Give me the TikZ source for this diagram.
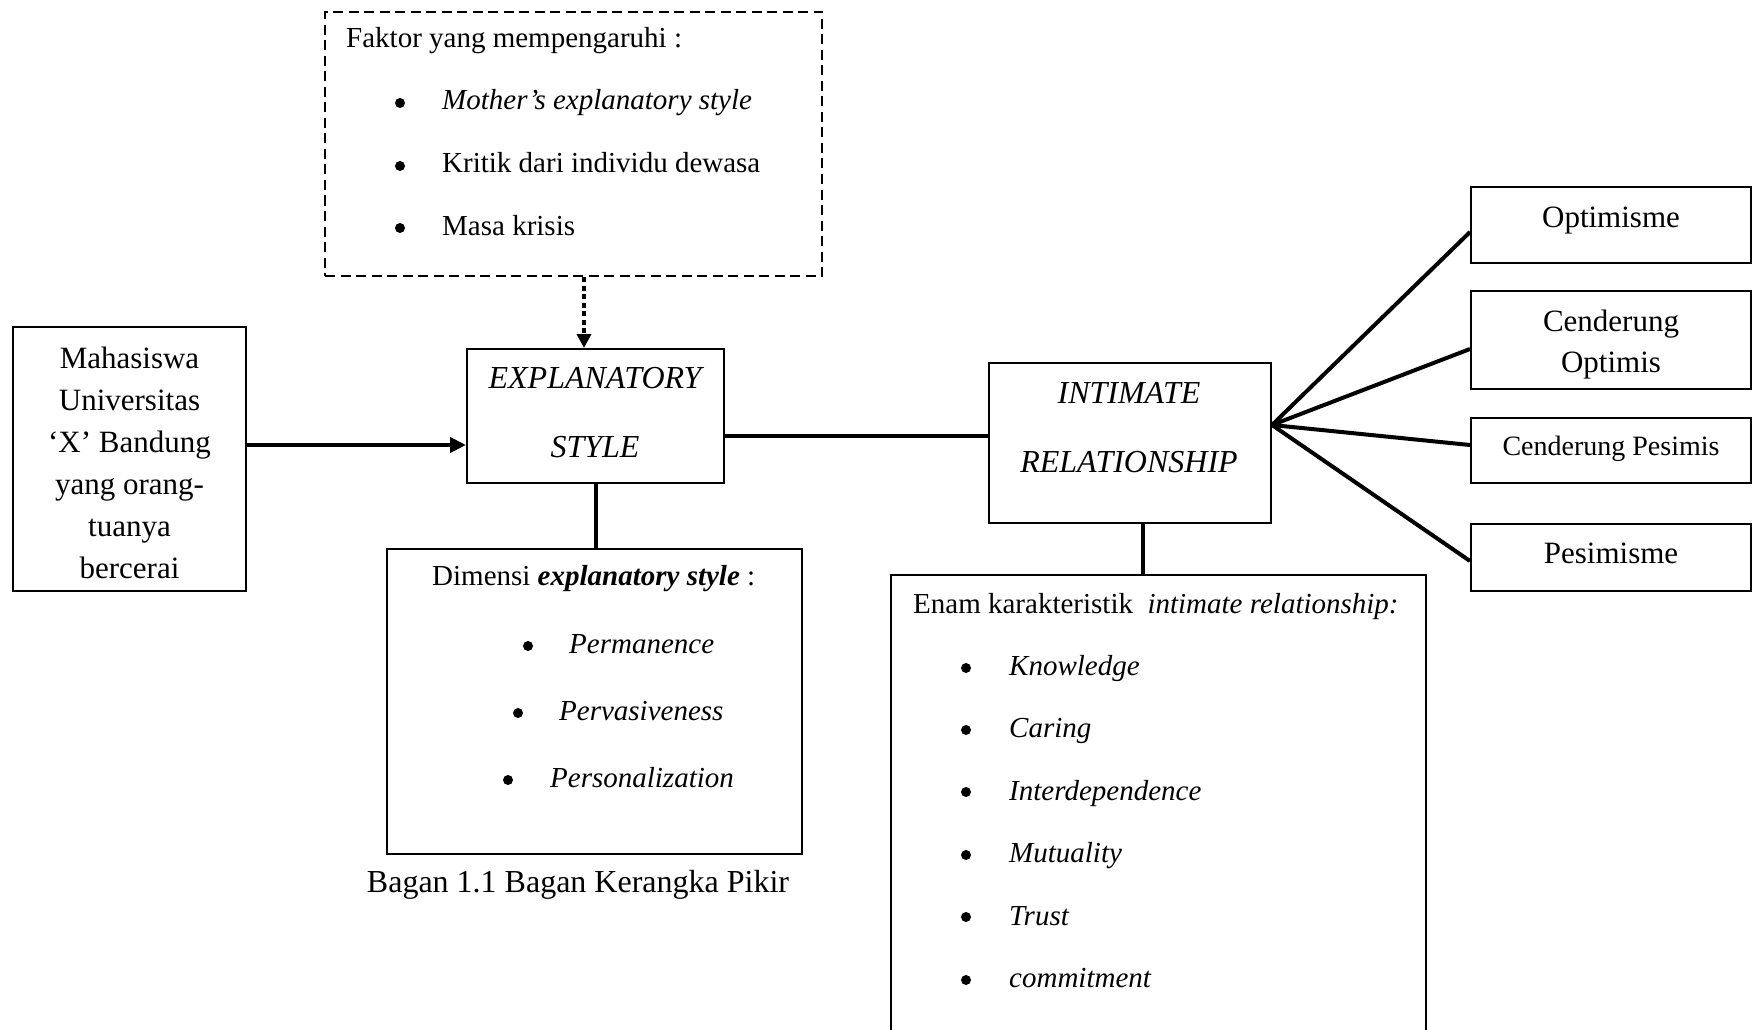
\documentclass[tikz,border=0pt]{standalone}
\usepackage{fontspec}
\setmainfont{Liberation Serif}
\usetikzlibrary{arrows.meta}
\begin{document}
\begin{tikzpicture}[x=1pt,y=-1pt,
  box/.style={draw, line width=2pt, rectangle, inner sep=0pt},
  dbox/.style={box, dash pattern=on 10pt off 5.5pt},
  conn/.style={line width=4pt},
  bigtxt/.style={inner sep=0pt, anchor=base, font=\fontsize{31}{37}\selectfont},
  ittxt/.style={inner sep=0pt, anchor=base, font=\fontsize{32}{38}\selectfont\itshape},
  midtxt/.style={inner sep=0pt, anchor=base, font=\fontsize{28}{34}\selectfont},
  ltxt/.style={inner sep=0pt, anchor=base west, font=\fontsize{29}{35}\selectfont},
  bul/.style={fill=black}
]
\useasboundingbox (0,0) rectangle (1757,1030);
\clip (0,0) rectangle (1757,1030);

% boxes
\node[dbox, minimum width=497pt, minimum height=264pt] (faktor) at (573.5,144) {};
\node[box, minimum width=233pt, minimum height=264pt] (maha) at (129.5,459) {};
\node[box, minimum width=257pt, minimum height=134pt] (expl) at (595.5,416) {};
\node[box, minimum width=415pt, minimum height=305pt] (dim) at (594.5,701.5) {};
\node[box, minimum width=282pt, minimum height=160pt] (intim) at (1130,443) {};
\node[box, minimum width=535pt, minimum height=485pt] (enam) at (1158.5,817.5) {};
\node[box, minimum width=280pt, minimum height=76pt] (opt) at (1611,225) {};
\node[box, minimum width=280pt, minimum height=98pt] (copt) at (1611,340) {};
\node[box, minimum width=280pt, minimum height=65pt] (cpes) at (1611,450.5) {};
\node[box, minimum width=280pt, minimum height=67pt] (pes) at (1611,557.5) {};

% helper coordinates
\coordinate (xdot) at (584,0);
\coordinate (yarr) at (0,445);
\coordinate (ylink) at (0,436);
\coordinate (xint) at (1143,0);
\coordinate (yfan) at (0,425);
\coordinate (yo1) at (0,232);
\coordinate (yo2) at (0,349);
\coordinate (yo3) at (0,445);
\coordinate (yo4) at (0,561);
\coordinate (fan) at (intim.east |- yfan);

% connectors
\draw[line width=4pt, dash pattern=on 5pt off 3.5pt, -{Triangle[length=14pt,width=14pt]}]
  (faktor.south -| xdot) -- (expl.north -| xdot);
\draw[conn, -{Triangle[length=16pt,width=15pt]}] (maha.east |- yarr) -- (expl.west |- yarr);
\draw[conn] (expl.east |- ylink) -- (intim.west |- ylink);
\draw[conn] (expl.south) -- (dim.north -| expl.south);
\draw[conn] (intim.south -| xint) -- (enam.north -| xint);
\draw[conn] (fan) -- (opt.west |- yo1);
\draw[conn] (fan) -- (copt.west |- yo2);
\draw[conn] (fan) -- (cpes.west |- yo3);
\draw[conn] (fan) -- (pes.west |- yo4);

% faktor text
\node[ltxt] (f0) at (346,48) {Faktor yang mempengaruhi :};
\node[ltxt] (f1) at (442,110) {\itshape Mother’s explanatory style};
\node[ltxt] (f2) at (442,173) {Kritik dari individu dewasa};
\node[ltxt] (f3) at (442,235) {Masa krisis};
\foreach \y in {103,166,228} \fill[bul] (400,\y) circle (5pt);

% mahasiswa text
\node[bigtxt] (m1) at (129.5,368) {Mahasiswa};
\node[bigtxt] (m2) at (129.5,410) {Universitas};
\node[bigtxt] (m3) at (129.5,452) {‘X’ Bandung};
\node[bigtxt] (m4) at (129.5,494) {yang orang-};
\node[bigtxt] (m5) at (129.5,536) {tuanya};
\node[bigtxt] (m6) at (129.5,578) {bercerai};

% explanatory text
\node[ittxt] (e1) at (595,388) {EXPLANATORY};
\node[ittxt] (e2) at (595,457) {STYLE};

% intimate text
\node[ittxt] (i1) at (1129,403) {INTIMATE};
\node[ittxt] (i2) at (1129,472) {RELATIONSHIP};

% outcomes
\node[bigtxt] (o1) at (1611,227) {Optimisme};
\node[bigtxt] (o2) at (1611,331) {Cenderung};
\node[bigtxt] (o2b) at (1611,372) {Optimis};
\node[midtxt] (o3) at (1611,455) {Cenderung Pesimis};
\node[bigtxt] (o4) at (1611,563) {Pesimisme};

% dimensi text
\node[ltxt] (d0) at (432,585) {Dimensi \textbf{\itshape explanatory style} :};
\node[ltxt] (d1) at (569,653) {\itshape Permanence};
\node[ltxt] (d2) at (559,720) {\itshape Pervasiveness};
\node[ltxt] (d3) at (550,787) {\itshape Personalization};
\fill[bul] (528,646) circle (5pt);
\fill[bul] (518,713) circle (5pt);
\fill[bul] (508,780) circle (5pt);

% caption
\node[bigtxt, font=\fontsize{32}{38}\selectfont] (cap) at (578,892) {Bagan 1.1 Bagan Kerangka Pikir};

% enam text
\node[ltxt] (n0) at (913,613) {Enam karakteristik\ \ \itshape intimate relationship:};
\node[ltxt] (n1) at (1009,675) {\itshape Knowledge};
\node[ltxt] (n2) at (1009,737) {\itshape Caring};
\node[ltxt] (n3) at (1009,800) {\itshape Interdependence};
\node[ltxt] (n4) at (1009,862) {\itshape Mutuality};
\node[ltxt] (n5) at (1009,925) {\itshape Trust};
\node[ltxt] (n6) at (1009,987) {\itshape commitment};
\foreach \y in {668,730,792,855,917,980} \fill[bul] (966,\y) circle (5pt);
\end{tikzpicture}
\end{document}
